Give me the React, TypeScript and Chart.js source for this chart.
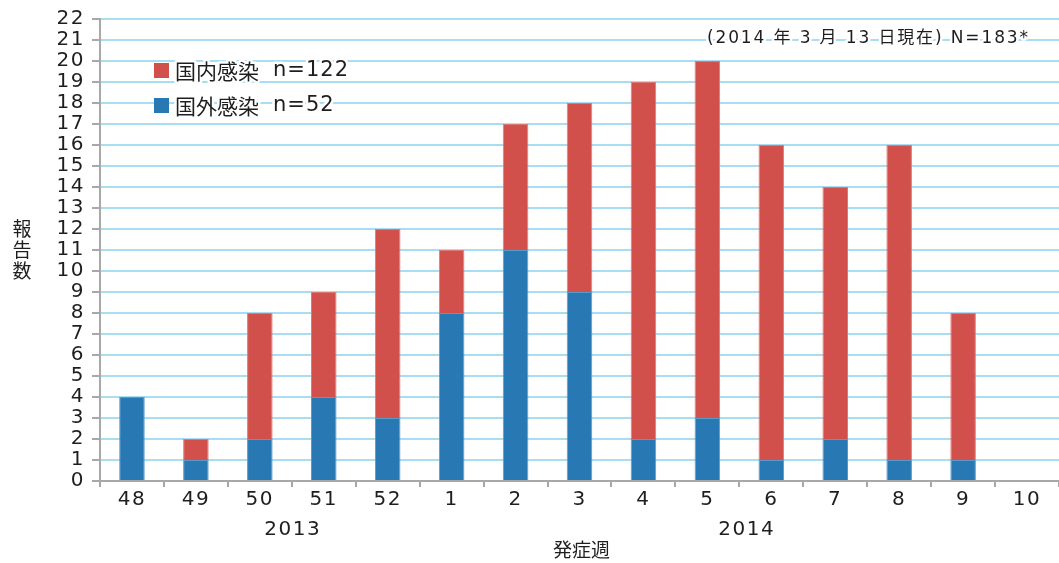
import React, { useEffect, useRef } from "react";
import { Chart, registerables } from "chart.js";

Chart.register(...registerables);

// 発症週 (2013年第48週〜2014年第10週)
const weeks: string[] = ["48", "49", "50", "51", "52", "1", "2", "3", "4", "5", "6", "7", "8", "9", "10"];
// 国外感染
const importedCases: number[] = [4, 1, 2, 4, 3, 8, 11, 9, 2, 3, 1, 2, 1, 1, 0];
// 国内感染
const domesticCases: number[] = [0, 1, 6, 5, 9, 3, 6, 9, 17, 17, 15, 12, 15, 7, 0];

const yearLabels: { text: string; at: number }[] = [
  { text: "2013", at: 2.5 },
  { text: "2014", at: 9.6 },
];
const legendItems: { name: string; count: string; color: string }[] = [
  { name: "国内感染", count: "n=122", color: "#D2504C" },
  { name: "国外感染", count: "n=52", color: "#2879B3" },
];
const noteText = "(2014 年 3 月 13 日現在) N=183*";
const xTitle = "発症週";
const yTitle = ["報", "告", "数"];

const FONT = '"DejaVu Sans", "Noto Sans CJK JP", sans-serif';
const CJK = '"Noto Sans CJK JP", sans-serif';
const TEXT = "#1e1e1e";
const GRID = "#A9DDF3";
const AXIS = "#A8A8A8";
const SPACING = "1.5px";

// text drawn over the grid gets a white halo, so grid lines break around the glyphs
function haloText(ctx: CanvasRenderingContext2D, text: string, x: number, y: number) {
  ctx.save();
  ctx.strokeStyle = "#ffffff";
  ctx.lineWidth = 5;
  ctx.lineJoin = "round";
  ctx.strokeText(text, x, y);
  ctx.restore();
  ctx.fillText(text, x, y);
}

const spacingPlugin = {
  id: "labelSpacing",
  beforeDraw(chart: Chart) {
    (chart.ctx as any).letterSpacing = SPACING;
  },
};

const overlayPlugin = {
  id: "overlayText",
  afterDraw(chart: Chart) {
    const ctx = chart.ctx;
    const x = chart.scales.x;
    ctx.save();
    (ctx as any).letterSpacing = "0px";
    ctx.fillStyle = TEXT;
    ctx.textBaseline = "middle";
    ctx.textAlign = "left";

    // note in the upper right, spread across its slot
    ctx.font = `17px ${FONT}`;
    const noteW = ctx.measureText(noteText).width;
    const noteSpacing = Math.max(0, (321 - noteW) / (noteText.length - 1));
    (ctx as any).letterSpacing = `${noteSpacing}px`;
    haloText(ctx, noteText, 707, 39);
    (ctx as any).letterSpacing = "0px";

    // legend
    legendItems.forEach((item, i) => {
      const cy = 71 + i * 35;
      ctx.fillStyle = item.color;
      ctx.fillRect(154, cy - 8, 15, 15);
      ctx.fillStyle = TEXT;
      ctx.font = `21px ${CJK}`;
      haloText(ctx, item.name, 175, cy);
      ctx.font = `21px ${FONT}`;
      (ctx as any).letterSpacing = "1px";
      haloText(ctx, item.count, 273, cy);
      (ctx as any).letterSpacing = "0px";
    });

    // year labels under the week ticks
    ctx.font = `20px ${FONT}`;
    ctx.textAlign = "center";
    (ctx as any).letterSpacing = SPACING;
    yearLabels.forEach((y) => {
      ctx.fillText(y.text, x.getPixelForValue(y.at) + 1, 530);
    });
    (ctx as any).letterSpacing = "0px";

    // axis titles
    ctx.font = `19px ${CJK}`;
    ctx.fillText(xTitle, x.getPixelForValue(7) + 2, 550);
    yTitle.forEach((ch, i) => {
      ctx.fillText(ch, 22, 229 + i * 21);
    });
    ctx.restore();
  },
};

export default function App() {
  const canvasRef = useRef<HTMLCanvasElement | null>(null);

  useEffect(() => {
    if (!canvasRef.current) return;
    const chart = new Chart(canvasRef.current, {
      type: "bar",
      data: {
        labels: weeks,
        datasets: [
          {
            label: "国外感染",
            data: importedCases,
            backgroundColor: "#2879B3",
            borderColor: "#5A9AC9",
            borderWidth: 1,
            categoryPercentage: 1,
            barPercentage: 0.4,
          },
          {
            label: "国内感染",
            data: domesticCases,
            backgroundColor: "#D2504C",
            borderColor: "#DE7A76",
            borderWidth: 1,
            categoryPercentage: 1,
            barPercentage: 0.4,
          },
        ],
      },
      options: {
        animation: false,
        responsive: true,
        maintainAspectRatio: false,
        layout: { padding: { top: 17, left: 0, right: 0, bottom: 0 } },
        plugins: {
          legend: { display: false },
          tooltip: { enabled: false },
        },
        scales: {
          x: {
            stacked: true,
            afterFit: (s: any) => {
              s.height = 82;
            },
            grid: {
              display: true,
              drawOnChartArea: false,
              drawTicks: true,
              tickLength: 6,
              color: AXIS,
              lineWidth: 2,
              offset: true,
            },
            border: { display: true, color: AXIS, width: 2 },
            ticks: {
              color: TEXT,
              font: { family: FONT, size: 20 },
              padding: 1,
              maxRotation: 0,
              autoSkip: false,
            },
          },
          y: {
            stacked: true,
            min: 0,
            max: 22,
            afterFit: (s: any) => {
              s.width = 100;
            },
            grid: {
              color: GRID,
              lineWidth: 2,
              drawTicks: true,
              tickLength: 8,
              tickColor: AXIS,
            },
            border: { display: true, color: AXIS, width: 2 },
            ticks: {
              stepSize: 1,
              autoSkip: false,
              color: TEXT,
              font: { family: FONT, size: 20 },
              padding: 7,
            },
          },
        },
      },
      plugins: [spacingPlugin, overlayPlugin],
    });
    return () => chart.destroy();
  }, []);

  return (
    <div style={{ position: "absolute", left: 0, top: 0, width: 1059, height: 563, background: "#ffffff" }}>
      <canvas ref={canvasRef} />
    </div>
  );
}
